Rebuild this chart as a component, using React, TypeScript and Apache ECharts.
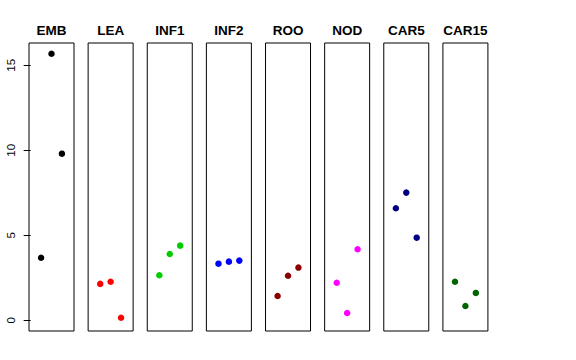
import React, { useEffect, useRef } from "react";
import * as echarts from "echarts";

const panels = ["EMB", "LEA", "INF1", "INF2", "ROO", "NOD", "CAR5", "CAR15"];
const colors = ["#000000", "#FF0000", "#00CD00", "#0000FF", "#8B0000", "#FF00FF", "#000080", "#006400"];
const EMB = [3.68, 15.68, 9.8];
const LEA = [2.14, 2.27, 0.15];
const INF1 = [2.65, 3.9, 4.39];
const INF2 = [3.33, 3.45, 3.51];
const ROO = [1.43, 2.62, 3.1];
const NOD = [2.21, 0.43, 4.18];
const CAR5 = [6.59, 7.51, 4.86];
const CAR15 = [2.27, 0.84, 1.61];
const values = [EMB, LEA, INF1, INF2, ROO, NOD, CAR5, CAR15];
const yTicks = [0, 5, 10, 15];

export default function App() {
  const ref = useRef<HTMLDivElement>(null);
  useEffect(() => {
    if (!ref.current) return;
    const chart = echarts.init(ref.current, null, { renderer: "svg" });
    const left0 = 29;
    const step = 59.13;
    const w = 45;
    const top = 43;
    const h = 288;
    const grid: any[] = [];
    const xAxis: any[] = [];
    const yAxis: any[] = [];
    const series: any[] = [];
    const graphic: any[] = [];
    panels.forEach((name, i) => {
      const l = left0 + i * step;
      grid.push({ left: l, top, width: w, height: h, show: true, borderColor: "#000", borderWidth: 1, backgroundColor: "transparent" });
      xAxis.push({ type: "value", gridIndex: i, min: -0.16, max: 4.16, show: false });
      yAxis.push({
        type: "value",
        gridIndex: i,
        min: -0.63,
        max: 16.31,
        show: i === 0,
        axisLine: { show: false },
        splitLine: { show: false },
        axisTick: { show: i === 0, length: 7, lineStyle: { color: "#000" }, customValues: yTicks },
        axisLabel: {
          show: i === 0,
          rotate: 90,
          margin: 12,
          fontSize: 11.5,
          color: "#000",
          fontFamily: "Liberation Sans, Arial, sans-serif",
          customValues: yTicks,
        },
      });
      series.push({
        type: "scatter",
        xAxisIndex: i,
        yAxisIndex: i,
        symbol: "circle",
        symbolSize: 6.5,
        itemStyle: { color: colors[i], opacity: 1 },
        data: values[i].map((v, j) => [j + 1, v]),
      });
      graphic.push({
        type: "text",
        x: l + w / 2,
        y: 30,
        style: {
          text: name,
          fontSize: 13.5,
          fontWeight: "bold",
          fontFamily: "Liberation Sans, Arial, sans-serif",
          fill: "#000",
          textAlign: "center",
          textVerticalAlign: "middle",
        },
      });
    });
    chart.setOption({ animation: false, grid, xAxis, yAxis, series, graphic });
    return () => chart.dispose();
  }, []);
  return <div ref={ref} style={{ width: 576, height: 360, position: "absolute", left: 0, top: 0, background: "#fff" }} />;
}
